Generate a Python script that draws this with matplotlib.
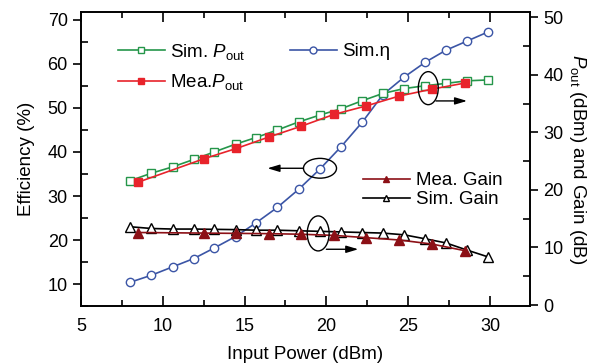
import matplotlib
matplotlib.use("Agg")
import matplotlib.pyplot as plt
from matplotlib.patches import Ellipse
from matplotlib.lines import Line2D
from matplotlib.ticker import MultipleLocator

plt.rcParams['font.family'] = ['Liberation Sans', 'DejaVu Sans']
plt.rcParams['mathtext.fontset'] = 'custom'
plt.rcParams['mathtext.rm'] = 'Liberation Sans'
plt.rcParams['mathtext.it'] = 'Liberation Sans:italic'
plt.rcParams['font.size'] = 12

# simulated sweep (input power, dBm)
x_sim = [8.0, 9.3, 10.6, 11.9, 13.15, 14.45, 15.7, 17.0, 18.3, 19.6,
         20.9, 22.2, 23.45, 24.75, 26.05, 27.3, 28.6, 29.9]
sim_eta = [10.4, 12.0, 13.9, 15.8, 18.2, 20.8, 23.9, 27.4, 31.5, 36.1,
           41.2, 46.8, 53.0, 57.0, 60.4, 63.1, 65.2, 67.3]
sim_pout = [21.6, 22.9, 24.0, 25.3, 26.6, 27.95, 29.1, 30.4, 31.8, 33.0,
            34.1, 35.5, 36.75, 37.6, 38.1, 38.5, 38.95, 39.1]
sim_gain = [13.6, 13.3, 13.2, 13.2, 13.15, 13.1, 13.0, 13.0, 12.9, 12.8,
            12.7, 12.6, 12.5, 12.2, 11.5, 10.8, 9.55, 8.35]

# measured points
x_mea = [8.5, 12.5, 14.5, 16.5, 18.45, 20.45, 22.45, 24.45, 26.45, 28.45]
mea_pout = [21.35, 25.4, 27.2, 29.2, 31.05, 33.1, 34.6, 36.3, 37.5, 38.55]
mea_gain = [12.6, 12.5, 12.45, 12.4, 12.3, 12.1, 11.7, 11.3, 10.6, 9.45]

green = '#25964a'
red = '#e8232b'
blue = '#3b55a6'
dred = '#8c1016'

fig = plt.figure(figsize=(6.06, 3.64), dpi=100)
ax = fig.add_axes([0.1337, 0.158, 0.7409, 0.809])
ax2 = ax.twinx()

ms = 6
ax.plot(x_sim, sim_eta, color=blue, lw=1.2, marker='o', ms=ms,
        mfc='white', mec=blue, mew=1.0, zorder=3)
ax2.plot(x_sim, sim_gain, color='black', lw=1.2, marker='^', ms=ms + 1.5,
         mfc='white', mec='black', mew=1.0, zorder=2)
ax2.plot(x_mea, mea_gain, color=dred, lw=1.2, marker='^', ms=ms + 1.5,
         mfc=dred, mec=dred, zorder=3)
ax2.plot(x_sim, sim_pout, color=green, lw=1.2, marker='s', ms=ms - 0.3,
         mfc='white', mec=green, mew=1.0, zorder=2)
ax2.plot(x_mea, mea_pout, color=red, lw=1.2, marker='s', ms=ms - 0.3,
         mfc=red, mec=red, zorder=3)

ax.set_xlim(5, 32.45)
ax.set_ylim(4.9, 71.8)
ax2.set_ylim(-0.25, 50.9)

ax.xaxis.set_major_locator(MultipleLocator(5))
ax.xaxis.set_minor_locator(MultipleLocator(2.5))
ax.yaxis.set_major_locator(MultipleLocator(10))
ax.yaxis.set_minor_locator(MultipleLocator(5))
ax2.yaxis.set_major_locator(MultipleLocator(10))
ax2.yaxis.set_minor_locator(MultipleLocator(5))

for a in (ax, ax2):
    for s in a.spines.values():
        s.set_linewidth(1.2)
ax.tick_params(axis='x', which='both', direction='in', top=True, width=1.2)
ax.tick_params(axis='x', which='major', length=7, labelsize=13, pad=8)
ax.tick_params(axis='x', which='minor', length=4)
ax.tick_params(axis='y', which='major', direction='out', length=6, width=1.2, labelsize=13)
ax.tick_params(axis='y', which='minor', direction='in', length=5, width=1.2)
ax2.tick_params(axis='y', which='major', direction='out', length=6, width=1.2, labelsize=13)
ax2.tick_params(axis='y', which='minor', direction='in', length=5, width=1.2)

ax.set_xlabel('Input Power (dBm)', fontsize=13.5, labelpad=8)
ax.set_ylabel('Efficiency (%)', fontsize=13.5, labelpad=9)
ax2.set_ylabel(r'$P_{\mathrm{out}}$ (dBm) and Gain (dB)', fontsize=13.5,
               rotation=270, labelpad=18)

# ellipses and arrows marking which axis each group belongs to
ax2.add_patch(Ellipse((19.61, 36.3), 2.02, 4.5, transform=ax.transData,
                      fill=False, ec='black', lw=1.0, zorder=5))
ax2.annotate('', xy=(16.4, 36.3), xytext=(18.6, 36.3), xycoords=ax.transData,
             textcoords=ax.transData,
             arrowprops=dict(arrowstyle='-|>,head_length=0.6,head_width=0.18',
                             color='black', lw=1.0, shrinkA=0, shrinkB=0))
ax2.add_patch(Ellipse((19.5, 21.5), 1.34, 7.95, transform=ax.transData,
                      fill=False, ec='black', lw=1.0, zorder=5))
ax2.annotate('', xy=(21.95, 17.9), xytext=(20.0, 17.9), xycoords=ax.transData,
             textcoords=ax.transData,
             arrowprops=dict(arrowstyle='-|>,head_length=0.6,head_width=0.18',
                             color='black', lw=1.0, shrinkA=0, shrinkB=0))
ax2.add_patch(Ellipse((26.23, 54.5), 1.22, 7.5, transform=ax.transData,
                      fill=False, ec='black', lw=1.0, zorder=5))
ax2.annotate('', xy=(28.6, 51.6), xytext=(26.7, 51.6), xycoords=ax.transData,
             textcoords=ax.transData,
             arrowprops=dict(arrowstyle='-|>,head_length=0.6,head_width=0.18',
                             color='black', lw=1.0, shrinkA=0, shrinkB=0))

# legends
h_sim_p = Line2D([], [], color=green, lw=1.2, marker='s', ms=4.5, mfc='white', mec=green)
h_mea_p = Line2D([], [], color=red, lw=1.2, marker='s', ms=4.5, mfc=red, mec=red)
h_eta = Line2D([], [], color=blue, lw=1.2, marker='o', ms=5, mfc='white', mec=blue)
h_mea_g = Line2D([], [], color=dred, lw=1.2, marker='^', ms=5, mfc=dred, mec=dred)
h_sim_g = Line2D([], [], color='black', lw=1.2, marker='^', ms=5, mfc='white', mec='black')

common = dict(frameon=False, borderpad=0, borderaxespad=0, handlelength=2.5,
              handletextpad=0.3, fontsize=13.5, bbox_transform=fig.transFigure,
              loc='upper left')
leg1 = fig.legend([h_sim_p, h_mea_p],
                  [r'Sim. $P_{\mathrm{out}}$', r'Mea.$P_{\mathrm{out}}$'],
                  bbox_to_anchor=(118 / 606, 1 - 42 / 364), labelspacing=0.55, **common)
leg2 = fig.legend([h_eta], ['Sim.η'],
                  bbox_to_anchor=(290 / 606, 1 - 43 / 364), **common)
leg3 = fig.legend([h_mea_g, h_sim_g], ['Mea. Gain', 'Sim. Gain'],
                  bbox_to_anchor=(363 / 606, 1 - 172 / 364), labelspacing=0.1, **common)

fig.savefig('out.png', dpi=100)
